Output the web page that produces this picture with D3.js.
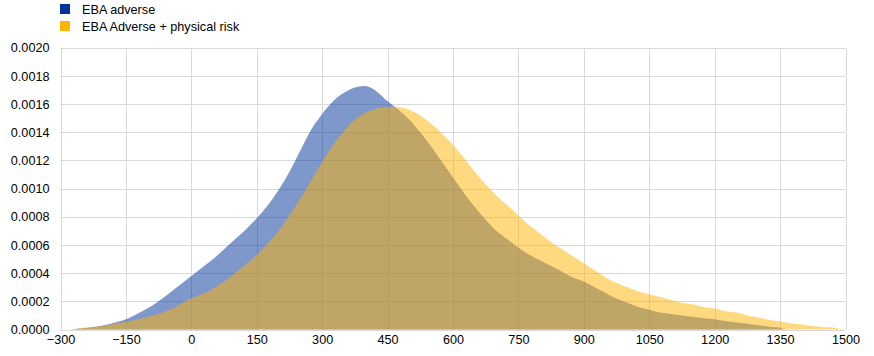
<!DOCTYPE html>
<html><head><meta charset="utf-8">
<script src="https://cdn.jsdelivr.net/npm/d3@7"></script>
<style>body{margin:0;background:#fff}svg{display:block}text{font-family:"Liberation Sans",Arial,sans-serif;font-size:12.67px;fill:#000}</style>
</head><body><svg id="c" width="874" height="356"></svg>
<script>
const seriesNames = ["EBA adverse", "EBA Adverse + physical risk"];
const seriesColors = ["#003299", "#ffb400"];
const xTicks = [-300,-150,0,150,300,450,600,750,900,1050,1200,1350,1500];
const yTicks = [0,0.0002,0.0004,0.0006,0.0008,0.0010,0.0012,0.0014,0.0016,0.0018,0.0020];

const xBlue = [-275,-250,-225,-200,-175,-150,-125,-100,-75,-50,-25,0,25,50,75,100,125,150,175,200,225,250,275,300,325,350,375,400,425,450,475,500,525,550,575,600,625,650,675,700,725,750,775,800,825,850,875,900,925,950,975,1000,1025,1050,1075,1100,1125,1150,1175,1200,1225,1250,1275,1300,1325,1350,1360];
const blue = [0,0.000008,0.000018,0.00003,0.00005,0.000072,0.00011,0.00015,0.0002,0.00026,0.00032,0.00038,0.00044,0.0005,0.00057,0.00064,0.00071,0.00079,0.00088,0.00099,0.00112,0.00127,0.00142,0.00153,0.00162,0.00168,0.001718,0.001728,0.00169,0.00162,0.00156,0.00149,0.0014,0.0013,0.00119,0.00108,0.00097,0.00087,0.00078,0.0007,0.00064,0.00058,0.00053,0.00049,0.00045,0.00041,0.00037,0.00034,0.0003,0.00026,0.00022,0.00019,0.00016,0.00014,0.00012,0.00011,0.0001,0.00009,0.00008,0.000073,0.00006,0.00005,0.00004,0.00003,0.00002,0.000013,0];

const xYellow = [-275,-250,-225,-200,-175,-150,-125,-100,-75,-50,-25,0,25,50,75,100,125,150,175,200,225,250,275,300,325,350,375,400,425,450,475,500,525,550,575,600,625,650,675,700,725,750,775,800,825,850,875,900,925,950,975,1000,1025,1050,1075,1100,1125,1150,1175,1200,1225,1250,1275,1300,1325,1350,1375,1400,1425,1450,1475,1495];
const yellow = [0,0.00001,0.000018,0.000027,0.00004,0.000055,0.00007,0.00009,0.00011,0.00014,0.00018,0.00022,0.00025,0.00029,0.00034,0.0004,0.00046,0.00053,0.00061,0.0007,0.00081,0.00093,0.00106,0.00119,0.00131,0.00141,0.00149,0.00154,0.001568,0.001578,0.00158,0.00156,0.00152,0.00146,0.00139,0.00131,0.00122,0.00112,0.00103,0.00095,0.00088,0.00081,0.00074,0.00068,0.00062,0.00057,0.00052,0.00047,0.00042,0.00037,0.00033,0.0003,0.00027,0.00025,0.00023,0.00021,0.00019,0.00018,0.00016,0.00015,0.00013,0.00012,0.0001,0.000085,0.00007,0.000056,0.000045,0.000035,0.000025,0.000018,0.000012,0];

const svg = d3.select("#c");
const L = 60.5, R = 845.5, T = 47.8, B = 329.5;
const x = d3.scaleLinear().domain([-300,1500]).range([L,R]);
const y = d3.scaleLinear().domain([0,0.002]).range([B,T]);

const grid = svg.append("g");
yTicks.forEach(t => grid.append("line").attr("x1",L).attr("x2",R).attr("y1",Math.round(y(t))+0.5).attr("y2",Math.round(y(t))+0.5).attr("stroke","#d9d9d9"));
xTicks.forEach(t => grid.append("line").attr("y1",T).attr("y2",B).attr("x1",Math.round(x(t))+0.5).attr("x2",Math.round(x(t))+0.5).attr("stroke","#d9d9d9"));

const area = d3.area().curve(d3.curveCatmullRom.alpha(0.5)).x(d=>x(d[0])).y0(B).y1(d=>Math.min(B, y(d[1])));
svg.append("path").datum(xBlue.map((v,i)=>[v,blue[i]])).attr("d",area).attr("fill",seriesColors[0]).attr("fill-opacity",0.5);
svg.append("path").datum(xYellow.map((v,i)=>[v,yellow[i]])).attr("d",area).attr("fill",seriesColors[1]).attr("fill-opacity",0.5);

const yAxis = d3.axisLeft(y).tickValues(yTicks).tickFormat(d3.format(".4f")).tickSize(0).tickPadding(11);
const ya = svg.append("g").attr("transform",`translate(${L},0)`).call(yAxis);
ya.select(".domain").remove();
ya.selectAll("text").style("font-size","12.67px").style("font-family","Liberation Sans, Arial, sans-serif").attr("fill","#000");

const xAxis = d3.axisBottom(x).tickValues(xTicks).tickFormat(d3.format("d")).tickSize(0).tickPadding(6);
const xa = svg.append("g").attr("transform",`translate(0,${B})`).call(xAxis);
xa.select(".domain").remove();
xa.selectAll("text").style("font-size","12.67px").style("font-family","Liberation Sans, Arial, sans-serif").attr("fill","#000");

const leg = svg.append("g");
seriesNames.forEach((n,i)=>{
  leg.append("rect").attr("x",60).attr("y",4+i*17).attr("width",10).attr("height",10).attr("fill",seriesColors[i]);
  leg.append("text").attr("x",82).attr("y",13.5+i*17).text(n);
});
</script></body></html>
